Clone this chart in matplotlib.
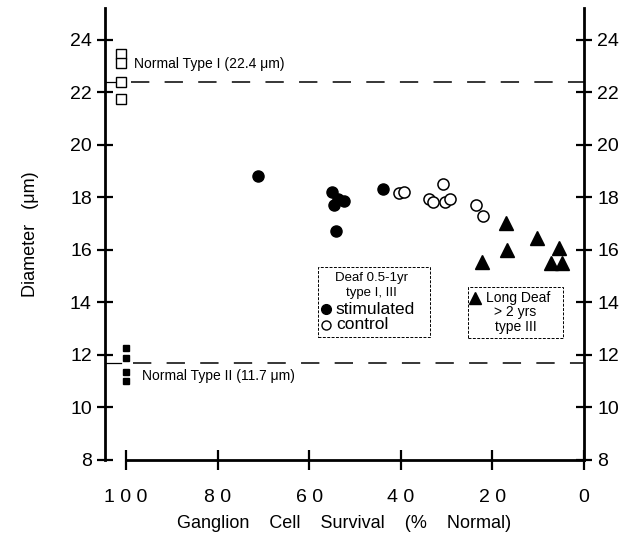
import matplotlib
matplotlib.use("Agg")
import matplotlib.pyplot as plt
from matplotlib.patches import Rectangle

plt.rcParams['font.family'] = ['Liberation Sans', 'DejaVu Sans']

# Data (ganglion cell survival % normal, diameter um)
stim_x = [71.2, 55.1, 54.7, 53.7, 52.4, 54.1, 44.0]
stim_y = [18.8, 18.2, 17.7, 17.95, 17.85, 16.7, 18.3]
ctrl_x = [40.3, 39.3, 30.7, 33.8, 33.0, 30.3, 29.3, 23.6, 22.1]
ctrl_y = [18.15, 18.2, 18.5, 17.95, 17.8, 17.8, 17.95, 17.7, 17.3]
long_x = [17.0, 16.9, 22.3, 10.3, 5.5, 7.1, 4.9]
long_y = [17.0, 16.0, 15.55, 16.45, 16.05, 15.5, 15.5]
type1_x = [101, 101, 101, 101]
type1_y = [23.45, 23.1, 22.4, 21.75]
type2_x = [100, 100, 100, 100]
type2_y = [12.25, 11.9, 11.35, 11.0]
type1_mean = 22.4
type2_mean = 11.7
xticks = [100, 80, 60, 40, 20, 0]
xticklabels = ["1 0 0", "8 0", "6 0", "4 0", "2 0", "0"]
yticks = [8, 10, 12, 14, 16, 18, 20, 22, 24]

fig = plt.figure(figsize=(6.26, 5.47), dpi=100)
ax = fig.add_axes([105/626, 1-460/547, (584-105)/626, (460-8)/547])
ax.set_xlim(104.6, 0)
ax.set_ylim(8, 25.2)

# reference lines
ax.plot([104.6, 101.8], [type1_mean, type1_mean], color='black', lw=0.9)
ax.plot([99, 0], [type1_mean, type1_mean], color='black', lw=1.1, dashes=(12, 10))
ax.plot([104.6, 101.2], [type2_mean, type2_mean], color='black', lw=0.9)
ax.plot([98.5, 0], [type2_mean, type2_mean], color='black', lw=1.1, dashes=(12, 10))

ax.plot(type1_x, type1_y, 's', ms=7.5, mfc='white', mec='black', mew=1.0, ls='none')
ax.plot(type2_x, type2_y, 's', ms=4.5, mfc='black', mec='black', ls='none')
ax.plot(stim_x, stim_y, 'o', ms=8, mfc='black', mec='black', ls='none')
ax.plot(ctrl_x, ctrl_y, 'o', ms=8, mfc='white', mec='black', mew=1.1, ls='none')
ax.plot(long_x, long_y, '^', ms=9.5, mfc='black', mec='black', ls='none')

ax.text(98.3, type1_mean + 0.4, "Normal Type I (22.4 μm)", fontsize=10, va='bottom', ha='left')
ax.text(96.5, type2_mean - 0.25, "Normal Type II (11.7 μm)", fontsize=10, va='top', ha='left')

# spines and ticks
for s in ['left', 'right', 'bottom']:
    ax.spines[s].set_linewidth(2.0)
ax.spines['top'].set_visible(False)
ax.spines['bottom'].set_bounds(100, 0)
ax.set_xticks(xticks)
ax.set_xticklabels(xticklabels)
ax.set_yticks(yticks)
ax.tick_params(axis='y', which='both', direction='inout', length=11, width=1.6,
               labelsize=14, left=True, right=True, labelleft=True, labelright=True, pad=4)
ax.tick_params(axis='x', direction='inout', length=14, width=1.6, labelsize=14, pad=14)

ax.set_ylabel("Diameter   (μm)", fontsize=13, labelpad=22)
ax.set_xlabel("Ganglion    Cell    Survival    (%    Normal)", fontsize=13, labelpad=6)

# legend boxes
T = ax.transAxes
d1 = -0.022
ax.add_patch(Rectangle((0.445, 0.294 + d1), 0.233, 0.155, transform=T,
                       fill=False, ec='black', lw=0.7, ls=(0, (3, 1.5))))
ax.text(0.557, 0.425 + d1, "Deaf 0.5-1yr", transform=T, fontsize=9.5, ha='center', va='center')
ax.text(0.557, 0.392 + d1, "type I, III", transform=T, fontsize=9.5, ha='center', va='center')
ax.plot([0.462], [0.356 + d1], 'o', ms=7, mfc='black', mec='black', transform=T, clip_on=False)
ax.plot([0.462], [0.321 + d1], 'o', ms=6.5, mfc='white', mec='black', mew=1.0, transform=T, clip_on=False)
ax.text(0.482, 0.356 + d1, "stimulated", transform=T, fontsize=12.5, ha='left', va='center')
ax.text(0.482, 0.321 + d1, "control", transform=T, fontsize=12.5, ha='left', va='center')

d2 = -0.033
ax.add_patch(Rectangle((0.758, 0.303 + d2), 0.198, 0.113, transform=T,
                       fill=False, ec='black', lw=0.7, ls=(0, (3, 1.5))))
ax.plot([0.772], [0.392 + d2], '^', ms=8, mfc='black', mec='black', transform=T, clip_on=False)
ax.text(0.795, 0.392 + d2, "Long Deaf", transform=T, fontsize=10, ha='left', va='center')
ax.text(0.857, 0.361 + d2, "> 2 yrs", transform=T, fontsize=10, ha='center', va='center')
ax.text(0.857, 0.327 + d2, "type III", transform=T, fontsize=10, ha='center', va='center')

fig.savefig("out.png", dpi=100)
